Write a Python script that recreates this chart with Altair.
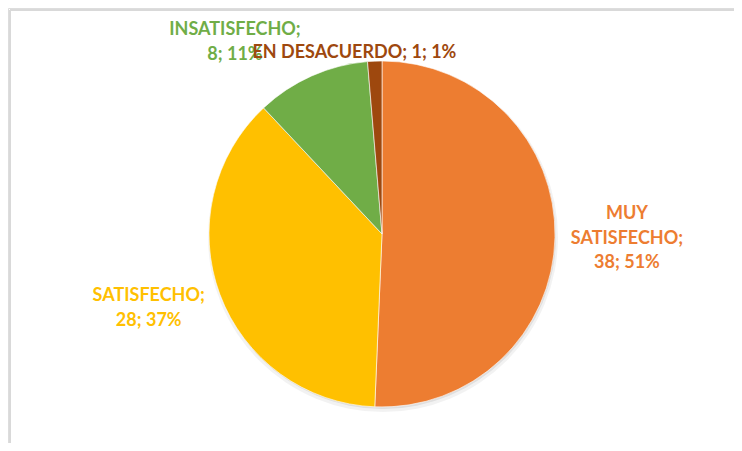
import altair as alt
import pandas as pd

categories = ["MUY SATISFECHO", "SATISFECHO", "INSATISFECHO", "EN DESACUERDO"]
values = [38, 28, 8, 1]
label_heads = ["MUY\nSATISFECHO;", "SATISFECHO;", "INSATISFECHO;", "EN DESACUERDO;"]
colors = ["#ED7D31", "#FFC000", "#70AD47", "#9E480E"]

total = sum(values)
labels = []
for head, v in zip(label_heads, values):
    pct = round(v / total * 100)
    sep = " " if head == "EN DESACUERDO;" else "\n"
    labels.append(f"{head}{sep}{v}; {pct}%")

df = pd.DataFrame({
    "cat": categories,
    "value": values,
    "label": labels,
    "order": list(range(len(categories))),
})

W, H = 726, 435
CX, CY, R = 374, 226, 173
FONT = "Lato"

color = alt.Color("cat:N", scale=alt.Scale(domain=categories, range=colors), legend=None)
theta = alt.Theta("value:Q", stack=True)
order = alt.Order("order:Q", sort="ascending")

one = pd.DataFrame({"a": [0]})

frame_top = alt.Chart(one).mark_rule(color="#d9d9d9", strokeWidth=2).encode(
    x=alt.value(2), x2=alt.value(W), y=alt.value(2))
frame_left = alt.Chart(one).mark_rule(color="#d9d9d9", strokeWidth=2).encode(
    x=alt.value(2), y=alt.value(2), y2=alt.value(H))

shadow1 = alt.Chart(one).mark_arc(theta=0, theta2=6.2832, outerRadius=R + 2, color="black", opacity=0.05).encode(
    x=alt.value(CX + 1), y=alt.value(CY + 3))
shadow2 = alt.Chart(one).mark_arc(theta=0, theta2=6.2832, outerRadius=R, color="black", opacity=0.08).encode(
    x=alt.value(CX + 1), y=alt.value(CY + 2))

base = alt.Chart(df)
pie = base.mark_arc(outerRadius=R, stroke="white", strokeWidth=0.6).encode(
    theta=theta, color=color, order=order, x=alt.value(CX), y=alt.value(CY))

def label_layer(cat, radius, dx, dy):
    return base.mark_text(
        radius=radius, dx=dx, dy=dy, font=FONT, fontSize=18, fontWeight="bold",
        lineBreak="\n", lineHeight=24.5, align="center", baseline="middle",
    ).encode(
        theta=theta, order=order, color=color,
        text=alt.condition(f"datum.cat == '{cat}'", "label:N", alt.value("")),
        x=alt.value(CX), y=alt.value(CY),
    )

texts = [
    label_layer("MUY SATISFECHO", 230, 15, -24.5),
    label_layer("SATISFECHO", 230, -17.7, -18),
    label_layer("INSATISFECHO", 230, -53.5, 6.5),
    label_layer("EN DESACUERDO", 182, -20, 1),
]

chart = alt.layer(frame_top, frame_left, shadow1, shadow2, pie, *texts).properties(
    width=W, height=H, padding=0, autosize=alt.AutoSizeParams(type="none")
).configure_view(stroke=None).configure(background="white")

chart.save("out.html", embed_options={"renderer": "svg", "actions": False})
